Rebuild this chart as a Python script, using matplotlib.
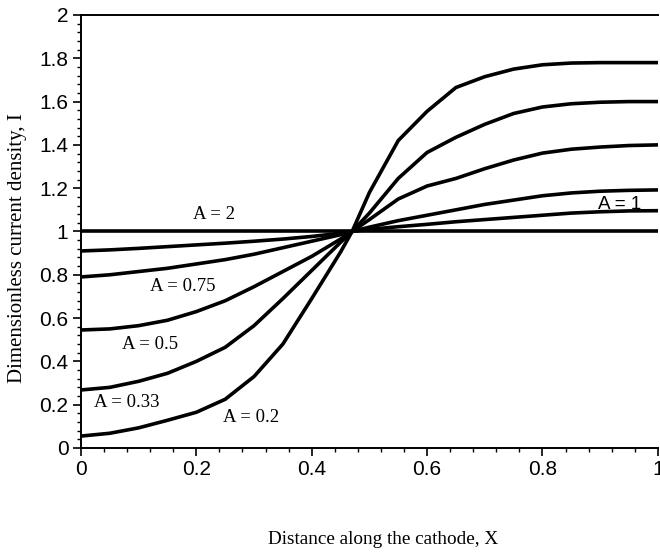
import matplotlib.pyplot as plt
from matplotlib.ticker import MultipleLocator

# distance along the cathode (shared by the curved profiles)
x_pos = [0.0, 0.05, 0.10, 0.15, 0.20, 0.25, 0.30, 0.35, 0.40, 0.45, 0.47,
         0.50, 0.55, 0.60, 0.65, 0.70, 0.75, 0.80, 0.85, 0.90, 0.95, 1.0]

# dimensionless current density for each A
i_a02 = [0.055, 0.068, 0.093, 0.128, 0.165, 0.225, 0.33, 0.48, 0.69, 0.905, 1.0,
         1.18, 1.42, 1.555, 1.665, 1.715, 1.75, 1.77, 1.778, 1.78, 1.78, 1.78]
i_a033 = [0.268, 0.28, 0.308, 0.345, 0.40, 0.465, 0.565, 0.69, 0.82, 0.95, 1.0,
          1.085, 1.245, 1.365, 1.435, 1.495, 1.545, 1.575, 1.59, 1.597, 1.6, 1.6]
i_a05 = [0.545, 0.55, 0.565, 0.59, 0.63, 0.68, 0.745, 0.815, 0.885, 0.965, 1.0,
         1.055, 1.15, 1.21, 1.245, 1.29, 1.33, 1.362, 1.38, 1.39, 1.397, 1.40]
i_a075 = [0.79, 0.80, 0.815, 0.83, 0.85, 0.87, 0.895, 0.925, 0.955, 0.985, 1.0,
          1.02, 1.05, 1.075, 1.10, 1.125, 1.145, 1.165, 1.178, 1.186, 1.19, 1.192]
i_a1 = [0.91, 0.915, 0.922, 0.93, 0.938, 0.946, 0.955, 0.965, 0.977, 0.992, 1.0,
        1.01, 1.022, 1.033, 1.045, 1.055, 1.065, 1.075, 1.085, 1.091, 1.095, 1.096]

# A = 2 stays uniform
x_flat = [0.0, 1.0]
i_a2 = [1.0, 1.0]

# label text and where it sits (X, I)
labels = ['A = 2', 'A = 0.75', 'A = 0.5', 'A = 0.33', 'A = 0.2', 'A = 1']
label_x = [0.231, 0.177, 0.119, 0.079, 0.295, 0.934]
label_y = [1.078, 0.745, 0.476, 0.21, 0.141, 1.125]

serif = ['Liberation Serif', 'DejaVu Serif']
sans = ['DejaVu Sans Condensed', 'Liberation Sans Narrow', 'Liberation Sans', 'DejaVu Sans']

fig = plt.figure(figsize=(6.6, 5.59), dpi=100)
ax = fig.add_axes([0.1227, 0.1986, 0.874, 0.7746])

for ys in [i_a02, i_a033, i_a05, i_a075, i_a1]:
    ax.plot(x_pos, ys, color='black', lw=2.6, solid_joinstyle='miter')
ax.plot(x_flat, i_a2, color='black', lw=2.6)

for txt, lx, ly in zip(labels, label_x, label_y):
    fam = ['Liberation Sans', 'DejaVu Sans'] if txt == 'A = 1' else serif
    ax.text(lx, ly, txt, ha='center', va='center', fontsize=13.5, family=fam)

ax.set_xlim(0, 1)
ax.set_ylim(0, 2)
ax.xaxis.set_minor_locator(MultipleLocator(0.04))
ax.yaxis.set_minor_locator(MultipleLocator(0.04))
ax.set_xticks([0, 0.2, 0.4, 0.6, 0.8, 1.0])
ax.set_xticklabels(['0', '0.2', '0.4', '0.6', '0.8', '1'])
ax.set_yticks([0, 0.2, 0.4, 0.6, 0.8, 1.0, 1.2, 1.4, 1.6, 1.8, 2.0])
ax.set_yticklabels(['0', '0.2', '0.4', '0.6', '0.8', '1', '1.2', '1.4', '1.6', '1.8', '2'])
ax.tick_params(which='major', length=6, width=1.2, direction='out', pad=3)
ax.tick_params(which='minor', length=3, width=1.0, direction='out')
for lab in ax.get_xticklabels() + ax.get_yticklabels():
    lab.set_family(sans)
    lab.set_fontsize(15)

ax.spines['right'].set_visible(False)
for s in ['left', 'bottom', 'top']:
    ax.spines[s].set_linewidth(1.4)

fig.text(0.026, 0.556, 'Dimensionless current density, I', rotation=90,
         ha='center', va='center', fontsize=15, family=serif)
fig.text(0.580, 0.034, 'Distance along the cathode, X', ha='center', va='center',
         fontsize=13.8, family=serif)

fig.savefig('out.png', dpi=100)
